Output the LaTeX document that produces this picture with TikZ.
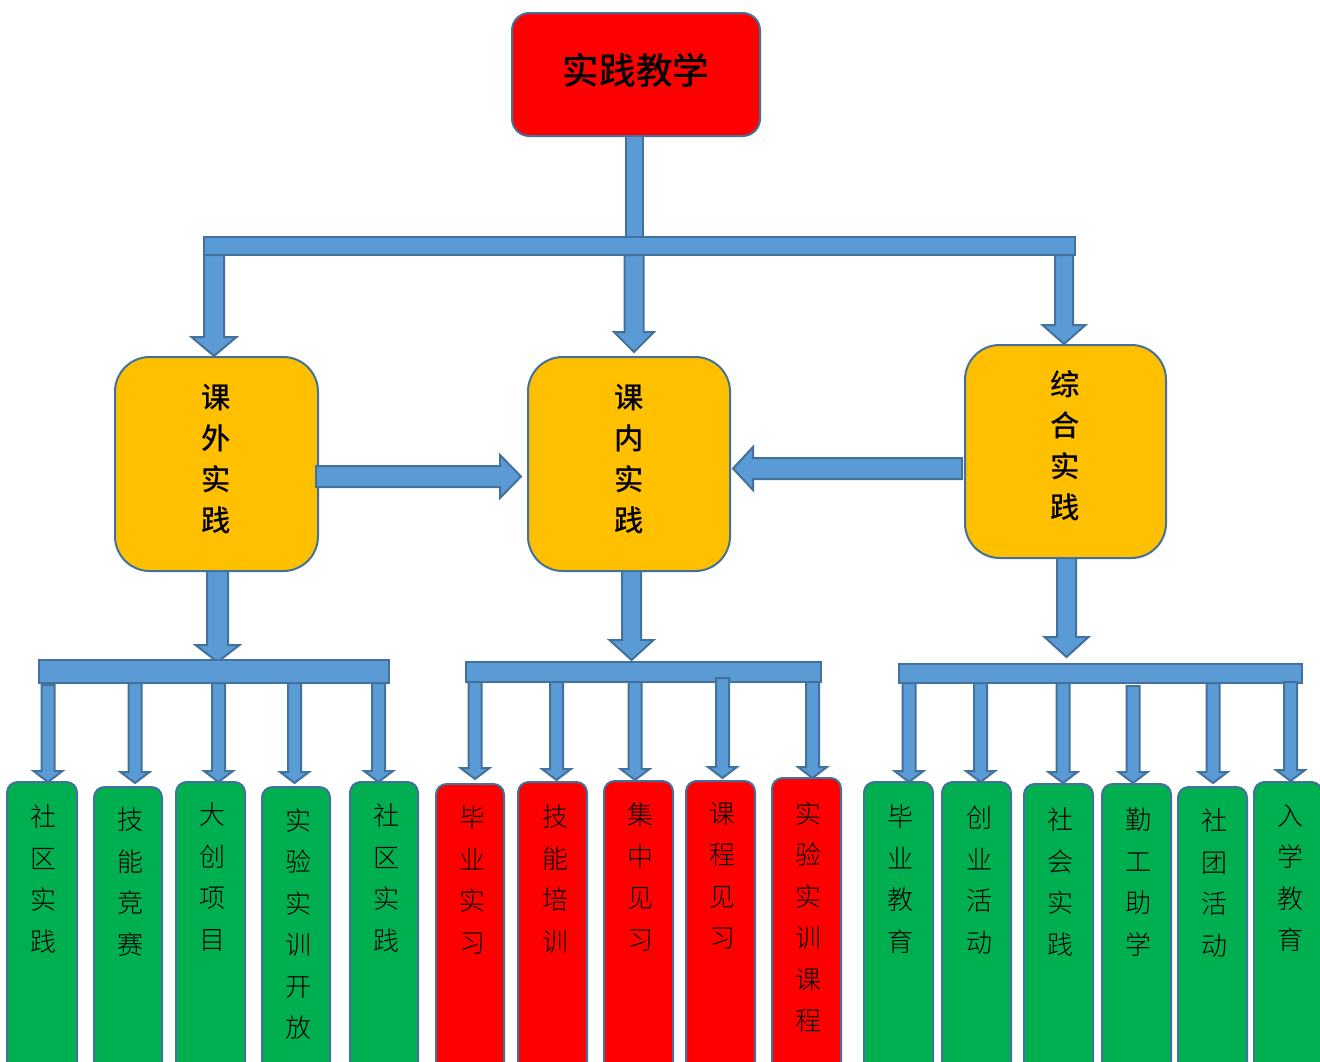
\documentclass[tikz,border=0pt]{standalone}
\usepackage{fontspec}
\newfontfamily\cjk{Noto Sans CJK SC}
\newfontfamily\cjkmed{Noto Sans CJK SC Medium}
\newfontfamily\cjklight{Noto Sans CJK SC Light}
\usetikzlibrary{fit}
\definecolor{arrblue}{HTML}{5B9BD5}
\definecolor{edgeblue}{HTML}{41719C}
\definecolor{boxred}{HTML}{FF0000}
\definecolor{boxgreen}{HTML}{00B050}
\definecolor{boxyellow}{HTML}{FFC000}
\tikzset{
 arr/.style={fill=arrblue, draw=edgeblue, line width=1.5pt, line join=miter},
 topbox/.style={draw=edgeblue, line width=1.5pt, fill=boxred, rounded corners=13pt, inner sep=0pt},
 midbox/.style={draw=edgeblue, line width=1.5pt, fill=boxyellow, rounded corners=26pt, inner sep=0pt},
 leafbox/.style={draw=edgeblue, line width=1.5pt, fill=#1, rounded corners=8pt, inner sep=0pt},
 toptext/.style={font=\cjkmed\fontsize{27.5}{33}\selectfont, inner sep=0pt},
 midtext/.style={font=\cjkmed\fontsize{22}{30.8}\selectfont, align=center, inner sep=0pt},
 leaftext/.style={font=\cjklight\fontsize{19.5}{31.1}\selectfont, align=center, inner sep=0pt},
}
% vertical block arrow: x, ytop, ybase, ytip, half shaft, half head
\newcommand\varrow[6]{\draw[arr] (#1-#5,#2) -- (#1+#5,#2) -- (#1+#5,#3) -- (#1+#6,#3) -- (#1,#4) -- (#1-#6,#3) -- (#1-#5,#3) -- cycle;}
% horizontal block arrow: y, xstart, xbase, xtip, half shaft, half head
\newcommand\harrow[6]{\draw[arr] (#2,#1-#5) -- (#3,#1-#5) -- (#3,#1-#6) -- (#4,#1) -- (#3,#1+#6) -- (#3,#1+#5) -- (#2,#1+#5) -- cycle;}
% leaf: name, colour, x1, x2, ytop, textx, texty, text
\newcommand\leaf[8]{%
 \node[leafbox=#2, fit={(#3,#5) (#4,1090)}] (#1) {};
 \node[leaftext] (#1t) at (#6,#7) {#8};}
\begin{document}
\begin{tikzpicture}[x=0.75pt,y=-0.75pt]
\useasboundingbox (0,0) rectangle (1320,1061);
\clip (0,0) rectangle (1320,1061);

% top
\node[topbox, fit={(512,13) (760,136)}] (top) {};
\node[toptext] (topt) at (636,70) {实践教学};

% middle boxes
\node[midbox, fit={(115,357) (318,571)}] (kw) {};
\node[midtext] (kwt) at (216,459) {课\\外\\实\\践};
\node[midbox, fit={(528,357) (730,571)}] (kn) {};
\node[midtext] (knt) at (629,459) {课\\内\\实\\践};
\node[midbox, fit={(965,345) (1166,558)}] (zh) {};
\node[midtext] (zht) at (1065,446) {综\\合\\实\\践};

% top connectors
\draw[arr] (626,136) rectangle (643,238);
\draw[arr] (204,237) rectangle (1075,255);
\varrow{214}{255}{337}{356}{10}{22.5}
\varrow{634}{255}{332}{352}{9.5}{20}
\varrow{1064}{255}{325}{344}{9}{21.5}

% horizontal arrows
\harrow{476.5}{316}{500}{521}{10.5}{21.5}
\harrow{468.5}{962}{753}{733}{10.5}{21.5}

% leaves
\leaf{l1}{boxgreen}{7}{77}{782}{44}{879}{社\\区\\实\\践}
\leaf{l2}{boxgreen}{94}{162}{787}{130}{882}{技\\能\\竞\\赛}
\leaf{l3}{boxgreen}{176}{245}{782}{212}{877}{大\\创\\项\\目}
\leaf{l4}{boxgreen}{262}{330}{787}{298}{924}{实\\验\\实\\训\\开\\放}
\leaf{l5}{boxgreen}{350}{418}{782}{386}{878}{社\\区\\实\\践}
\leaf{m1}{boxred}{436}{504}{784}{472}{880}{毕\\业\\实\\习}
\leaf{m2}{boxred}{518}{587}{782}{555}{879}{技\\能\\培\\训}
\leaf{m3}{boxred}{604}{673}{781}{640}{877}{集\\中\\见\\习}
\leaf{m4}{boxred}{686}{755}{781}{722}{876}{课\\程\\见\\习}
\leaf{m5}{boxred}{772}{841}{778}{808}{917}{实\\验\\实\\训\\课\\程}
\leaf{r1}{boxgreen}{864}{933}{782}{900}{879}{毕\\业\\教\\育}
\leaf{r2}{boxgreen}{942}{1011}{782}{979}{880}{创\\业\\活\\动}
\leaf{r3}{boxgreen}{1024}{1093}{784}{1060}{882}{社\\会\\实\\践}
\leaf{r4}{boxgreen}{1102}{1171}{784}{1138}{882}{勤\\工\\助\\学}
\leaf{r5}{boxgreen}{1178}{1247}{787}{1214}{883}{社\\团\\活\\动}
\leaf{r6}{boxgreen}{1254}{1322}{782}{1290}{878}{入\\学\\教\\育}

% middle-level down arrows
\varrow{217.5}{571}{645}{662}{10.5}{22}
\varrow{631.5}{571}{640}{660}{9.5}{22}
\varrow{1066.5}{558}{637}{657}{9.5}{22}

% bars
\draw[arr] (39,660) rectangle (389,683);
\draw[arr] (466,662) rectangle (821,682);
\draw[arr] (899,664) rectangle (1302,683);

% small arrows
\varrow{48}{685}{771}{782}{6.5}{14.5}
\varrow{135}{683}{772}{783}{6.5}{14.5}
\varrow{218.5}{683}{771}{782}{6.5}{14.5}
\varrow{294.5}{683}{772}{783}{6.5}{14.5}
\varrow{378.5}{683}{771}{782}{6.5}{14.5}
\varrow{475}{682}{768}{779}{6.5}{14.5}
\varrow{556.5}{682}{769}{780}{6.5}{14.5}
\varrow{635}{682}{769}{780}{6.5}{14.5}
\varrow{722.5}{678}{767}{778}{6.5}{14.5}
\varrow{812.5}{682}{767}{778}{6.5}{14.5}
\varrow{909}{683}{771}{782}{6.5}{14.5}
\varrow{980.5}{683}{771}{782}{6.5}{14.5}
\varrow{1063}{683}{772}{783}{6.5}{14.5}
\varrow{1133}{686}{772}{783}{6.5}{14.5}
\varrow{1213}{683}{772}{783}{6.5}{14.5}
\varrow{1290.5}{682}{770}{781}{6.5}{14.5}
\end{tikzpicture}
\end{document}
